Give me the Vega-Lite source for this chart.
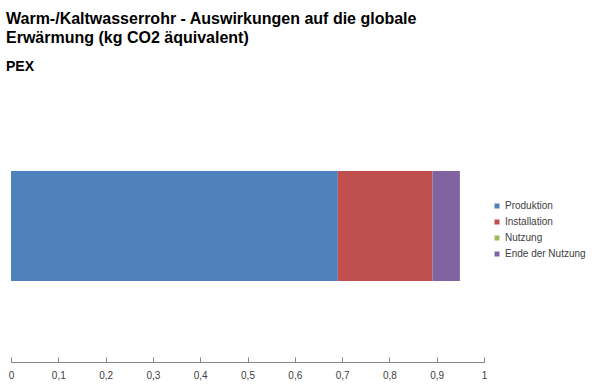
{
  "$schema": "https://vega.github.io/schema/vega-lite/v6.json",
  "width": 473,
  "height": 272,
  "autosize": {"type": "none"},
  "padding": {"left": 11, "top": 90, "right": 110, "bottom": 22},
  "background": "white",
  "config": {"view": {"stroke": null}, "font": "Liberation Sans"},
  "title": {
    "text": ["Warm-/Kaltwasserrohr - Auswirkungen auf die globale", "Erwärmung (kg CO2 äquivalent)"],
    "subtitle": "PEX",
    "anchor": "start",
    "frame": "group",
    "dx": -5,
    "offset": 16,
    "font": "Liberation Sans",
    "fontSize": 16,
    "fontWeight": "bold",
    "lineHeight": 19,
    "color": "#000000",
    "subtitleFont": "Liberation Sans",
    "subtitleFontSize": 14,
    "subtitleFontWeight": "bold",
    "subtitleColor": "#000000",
    "subtitlePadding": 14
  },
  "data": {
    "values": [
      {"cat": "PEX", "phase": "Produktion", "order": 1, "value": 0.691},
      {"cat": "PEX", "phase": "Installation", "order": 2, "value": 0.2},
      {"cat": "PEX", "phase": "Nutzung", "order": 3, "value": 0},
      {"cat": "PEX", "phase": "Ende der Nutzung", "order": 4, "value": 0.058}
    ]
  },
  "mark": {"type": "bar"},
  "encoding": {
    "y": {
      "field": "cat",
      "type": "nominal",
      "axis": null,
      "scale": {"paddingInner": 0, "paddingOuter": 0.736}
    },
    "x": {
      "field": "value",
      "type": "quantitative",
      "stack": "zero",
      "scale": {"domain": [0, 1], "nice": false},
      "axis": {
        "title": null,
        "grid": false,
        "values": [0, 0.1, 0.2, 0.3, 0.4, 0.5, 0.6, 0.7, 0.8, 0.9, 1],
        "labelExpr": "replace(format(datum.value, '~g'), '.', ',')",
        "tickSize": -5,
        "tickColor": "#868686",
        "domainColor": "#868686",
        "labelColor": "#404040",
        "labelFontSize": 10,
        "labelFont": "Liberation Sans",
        "labelPadding": 13,
        "labelFlush": false
      }
    },
    "color": {
      "field": "phase",
      "type": "nominal",
      "sort": ["Produktion", "Installation", "Nutzung", "Ende der Nutzung"],
      "scale": {
        "domain": ["Produktion", "Installation", "Nutzung", "Ende der Nutzung"],
        "range": ["#4F81BD", "#C0504D", "#9BBB59", "#8064A2"]
      },
      "legend": {
        "title": null,
        "orient": "none",
        "legendX": 481,
        "legendY": 111,
        "symbolType": "square",
        "symbolSize": 25,
        "symbolStrokeWidth": 0,
        "labelFont": "Liberation Sans",
        "labelFontSize": 10,
        "labelColor": "#404040",
        "labelOffset": 3,
        "rowPadding": 6
      }
    },
    "order": {"field": "order", "type": "quantitative"}
  }
}
